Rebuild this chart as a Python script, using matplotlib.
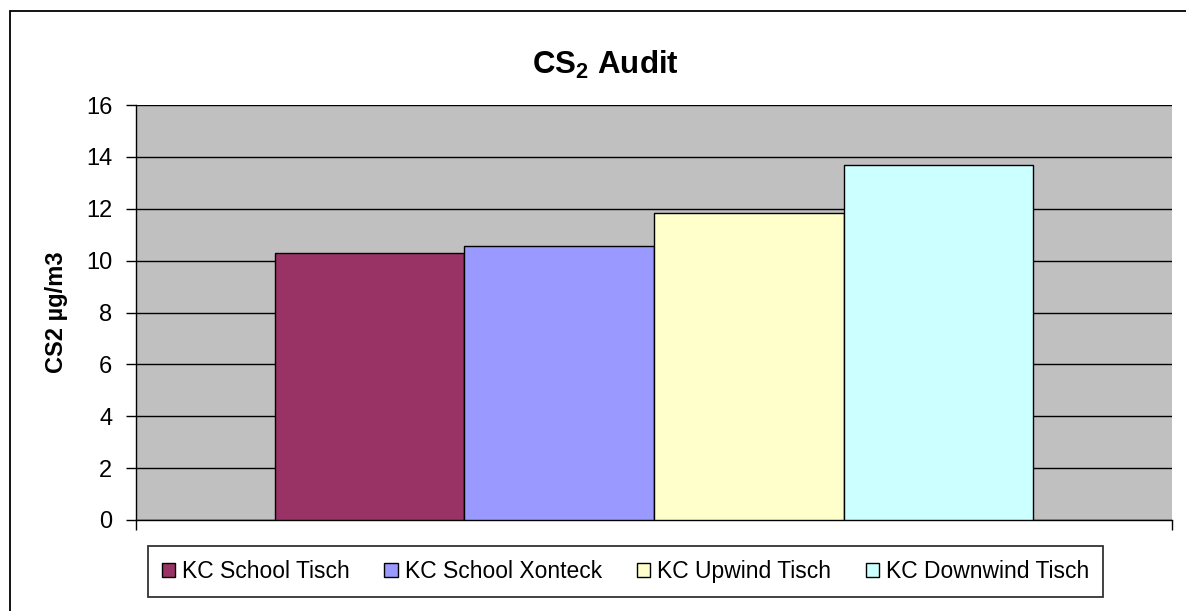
import matplotlib.pyplot as plt
import matplotlib.patches as mpatches

plt.rcParams['font.family'] = ['Liberation Sans', 'DejaVu Sans']

# data
series = ['KC School Tisch', 'KC School Xonteck', 'KC Upwind Tisch', 'KC Downwind Tisch']
values = [10.28, 10.55, 11.82, 13.69]
colors = ['#993366', '#9999FF', '#FFFFCC', '#CCFFFF']

W, H = 1186, 611
fig = plt.figure(figsize=(W / 100, H / 100), dpi=100)
ax = fig.add_axes([136 / W, 91 / H, 1036 / W, 415 / H])
ax.set_facecolor('#C0C0C0')

# chart-area frame, runs off the right and bottom edges
fig.patches.append(mpatches.Rectangle((9.5 / W, -0.05), 1.2, 1.05 - 11.5 / H,
                                      transform=fig.transFigure, fill=False,
                                      edgecolor='black', linewidth=1.3))

bar_w = 0.183
n = len(values)
for i, (s, v, c) in enumerate(zip(series, values, colors)):
    x = (i - (n - 1) / 2) * bar_w
    ax.bar(x, v, width=bar_w, color=c, edgecolor='black', linewidth=1, label=s, zorder=3)

ax.set_xlim(-0.5, 0.5)
ax.set_ylim(0, 16)
ax.set_yticks(range(0, 17, 2))
ax.set_xticks([-0.5, 0.5])
ax.set_xticklabels([])
ax.tick_params(axis='y', labelsize=17, length=7, width=1, direction='out', pad=10)
ax.tick_params(axis='x', length=7, width=1, direction='out')
ax.yaxis.grid(True, color='black', linewidth=1, zorder=1)
ax.set_axisbelow(True)
for side in ['top', 'right']:
    ax.spines[side].set_visible(False)
for side in ['left', 'bottom']:
    ax.spines[side].set_linewidth(1)

ax.set_ylabel('CS2 µg/m3', fontsize=17, fontweight='bold', labelpad=13)
fig.text(605 / W, 1 - 74 / H, r'CS$_\mathregular{2}$ Audit', ha='center', va='baseline',
         fontsize=22.5, fontweight='bold')

leg = fig.legend(loc='center', bbox_to_anchor=(625.5 / W, 1 - 571.5 / H), ncol=4,
                 fontsize=16.5, frameon=True, fancybox=False, edgecolor='black',
                 handlelength=0.6, handleheight=0.6, handletextpad=0.3,
                 columnspacing=1.5, borderpad=0.6)
leg.get_frame().set_linewidth(1.3)

fig.savefig('out.png', dpi=100)
